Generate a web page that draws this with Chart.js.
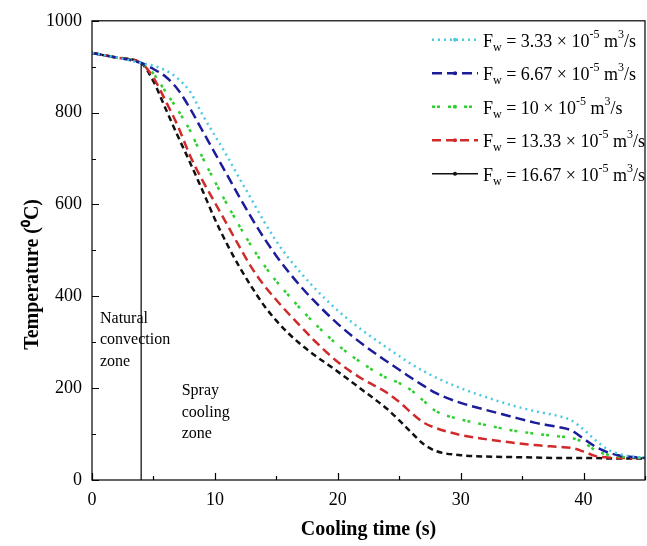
<!DOCTYPE html>
<html>
<head>
<meta charset="utf-8">
<script src="https://cdn.jsdelivr.net/npm/chart.js@4.4.1/dist/chart.umd.min.js"></script>
<style>
    html, body { margin: 0; padding: 0; background: #fff; }
    #wrap { width: 647px; height: 546px; }
</style>
</head>
<body>
<div id="wrap"><canvas id="coolingChart" width="647" height="546"></canvas></div>
<script>
// Cooling curves (time in s, temperature in degC)
const timeS = [0, 2, 4, 5, 6, 7, 8, 9, 10, 11, 12, 13, 14, 15, 16, 17, 18, 20, 22, 24, 25, 26, 27, 28, 30, 32, 34, 36, 38, 39, 40, 41, 42, 43, 44, 45];
const tempFw333 = [930, 920, 908, 902, 892, 874, 845, 795, 750, 705, 657, 610, 563, 520, 483, 451, 421, 369, 326, 288, 270, 252, 237, 223, 200, 181, 164, 150, 139, 130, 110, 86, 66, 56, 51, 48];
const tempFw667 = [930, 920, 908, 895, 878, 850, 808, 760, 712, 664, 616, 570, 527, 488, 453, 421, 392, 340, 296, 258, 240, 222, 205, 189, 168, 153, 139, 125, 115, 108, 90, 72, 60, 53, 50, 48];
const tempFw10 = [930, 920, 908, 885, 845, 805, 760, 702, 650, 600, 553, 508, 468, 433, 402, 372, 344, 294, 254, 222, 211, 195, 172, 150, 132, 120, 109, 101, 95, 92, 82, 64, 55, 51, 49, 48];
const tempFw1333 = [930, 920, 908, 876, 825, 770, 705, 652, 604, 556, 508, 462, 424, 392, 362, 334, 306, 257, 220, 190, 170, 146, 125, 113, 98, 89, 82, 76, 72, 70, 62, 52, 49, 48, 48, 48];
const tempFw1667 = [930, 920, 908, 868, 808, 748, 690, 630, 568, 513, 464, 420, 380, 347, 319, 295, 274, 236, 196, 155, 130, 103, 78, 63, 54, 51, 50, 49, 48, 48, 48, 48, 47, 47, 47, 47];

// Zone divider (natural convection -> spray cooling)
const dividerTime = [4, 4];
const dividerTemp = [0, 908];

// Legend values (x 10^-5 m^3/s) and axis ticks
const flowLabels = ['3.33', '6.67', '10', '13.33', '16.67'];
const xTicks = [0, 10, 20, 30, 40];
const yTicks = [0, 200, 400, 600, 800, 1000];

const SERIF = '"Liberation Serif", "Times New Roman", serif';

const seriesStyles = [
    { data: tempFw333, color: '#4cc9e2', dash: [2, 4], width: 2.5 },
    { data: tempFw667, color: '#1c1c9a', dash: [10, 5], width: 2.5 },
    { data: tempFw10, color: '#2fcf2f', dash: [3, 2, 3, 8], width: 2.5 },
    { data: tempFw1333, color: '#d02a2a', dash: [9, 5], width: 2.5 },
    { data: tempFw1667, color: '#111111', dash: [6, 4], width: 2.5 }
];

function toPoints(xs, ys) {
    return xs.map((t, i) => ({ x: t, y: ys[i] }));
}

// Draw a string with sub/superscript runs
function drawRich(ctx, parts, x, y) {
    parts.forEach(p => {
        const size = p.small ? 12 : 18;
        ctx.font = size + 'px ' + SERIF;
        const dy = p.sub ? 6 : (p.sup ? -7 : 0);
        ctx.fillText(p.text, x, y + dy);
        x += ctx.measureText(p.text).width;
    });
}

const overlayPlugin = {
    id: 'overlay',
    afterDraw(chart) {
        const { ctx, chartArea: area, scales: { x, y } } = chart;
        ctx.save();

        // frame
        ctx.strokeStyle = '#000';
        ctx.lineWidth = 1.2;
        ctx.setLineDash([]);
        ctx.strokeRect(area.left, area.top, area.right - area.left, area.bottom - area.top);

        // inward ticks, majors and minors
        ctx.beginPath();
        for (let v = 0; v <= 1000; v += 100) {
            const py = Math.round(y.getPixelForValue(v)) + 0.5;
            const len = v % 200 === 0 ? 7 : 4;
            ctx.moveTo(area.left, py);
            ctx.lineTo(area.left + len, py);
        }
        for (let v = 0; v <= 45; v += 5) {
            const px = Math.round(x.getPixelForValue(v)) + 0.5;
            const len = v % 10 === 0 ? 7 : 4;
            ctx.moveTo(px, area.bottom);
            ctx.lineTo(px, area.bottom - len);
        }
        ctx.stroke();

        // y axis title
        ctx.fillStyle = '#000';
        ctx.save();
        ctx.translate(33, (area.top + area.bottom) / 2 + 24);
        ctx.rotate(-Math.PI / 2);
        ctx.textAlign = 'center';
        ctx.textBaseline = 'middle';
        ctx.font = 'bold 20px ' + SERIF;
        ctx.fillText('Temperature (\u2070C)', 0, 0);
        ctx.restore();

        // zone labels
        ctx.font = '16px ' + SERIF;
        ctx.textAlign = 'left';
        ctx.textBaseline = 'middle';
        const natX = x.getPixelForValue(0.65);
        ['Natural', 'convection', 'zone'].forEach((s, i) => {
            ctx.fillText(s, natX, y.getPixelForValue(352 - i * 47));
        });
        const sprX = x.getPixelForValue(7.3);
        ['Spray', 'cooling', 'zone'].forEach((s, i) => {
            ctx.fillText(s, sprX, y.getPixelForValue(194 - i * 47));
        });

        // legend
        const sx0 = area.right - 213;
        const sx1 = area.right - 167;
        const tx = area.right - 162;
        seriesStyles.forEach((st, i) => {
            const ly = area.top + 21 + i * 33.5;
            ctx.strokeStyle = st.color;
            ctx.lineWidth = i === 4 ? 1.5 : 2.5;
            ctx.setLineDash(i === 4 ? [] : st.dash);
            ctx.beginPath();
            ctx.moveTo(sx0, ly - 2);
            ctx.lineTo(sx1, ly - 2);
            ctx.stroke();
            ctx.setLineDash([]);
            ctx.fillStyle = st.color;
            ctx.beginPath();
            ctx.arc((sx0 + sx1) / 2, ly - 2, 2, 0, Math.PI * 2);
            ctx.fill();

            ctx.fillStyle = '#000';
            ctx.textBaseline = 'middle';
            drawRich(ctx, [
                { text: 'F' },
                { text: 'w', small: true, sub: true },
                { text: ' = ' + flowLabels[i] + ' \u00d7 10' },
                { text: '-5', small: true, sup: true },
                { text: ' m' },
                { text: '3', small: true, sup: true },
                { text: '/s' }
            ], tx, ly);
        });

        ctx.restore();
    }
};

const datasets = seriesStyles.map((st, i) => ({
    label: 'Fw = ' + flowLabels[i],
    data: toPoints(timeS, st.data),
    borderColor: st.color,
    borderWidth: st.width,
    borderDash: st.dash,
    pointRadius: 0,
    cubicInterpolationMode: 'monotone',
    fill: false
}));

datasets.push({
    label: 'divider',
    data: toPoints(dividerTime, dividerTemp),
    borderColor: '#000',
    borderWidth: 1.2,
    pointRadius: 0,
    fill: false
});

new Chart(document.getElementById('coolingChart'), {
    type: 'line',
    data: { datasets: datasets },
    options: {
        responsive: false,
        animation: false,
        layout: { padding: { top: 17, right: 2, left: 0, bottom: 0 } },
        plugins: {
            legend: { display: false },
            tooltip: { enabled: false }
        },
        scales: {
            x: {
                type: 'linear',
                min: 0,
                max: 45,
                grid: { display: false, drawTicks: false },
                border: { display: false },
                afterBuildTicks: function(scale) {
                    scale.ticks = xTicks.map(v => ({ value: v }));
                },
                afterFit: function(scale) {
                    scale.height = 66;
                },
                ticks: {
                    padding: 9,
                    color: '#000',
                    font: { family: SERIF, size: 18 },
                    callback: function(value) {
                        return String(value);
                    }
                },
                title: {
                    display: true,
                    text: 'Cooling time (s)',
                    color: '#000',
                    font: { family: SERIF, size: 20, weight: 'bold' },
                    padding: { top: 0, bottom: 4 }
                }
            },
            y: {
                min: 0,
                max: 1000,
                grid: { display: false, drawTicks: false },
                border: { display: false },
                afterBuildTicks: function(scale) {
                    scale.ticks = yTicks.map(v => ({ value: v }));
                },
                afterFit: function(scale) {
                    scale.width = 92;
                },
                ticks: {
                    padding: 10,
                    color: '#000',
                    font: { family: SERIF, size: 18 },
                    callback: function(value) {
                        return String(value);
                    }
                }
            }
        }
    },
    plugins: [overlayPlugin]
});
</script>
</body>
</html>
